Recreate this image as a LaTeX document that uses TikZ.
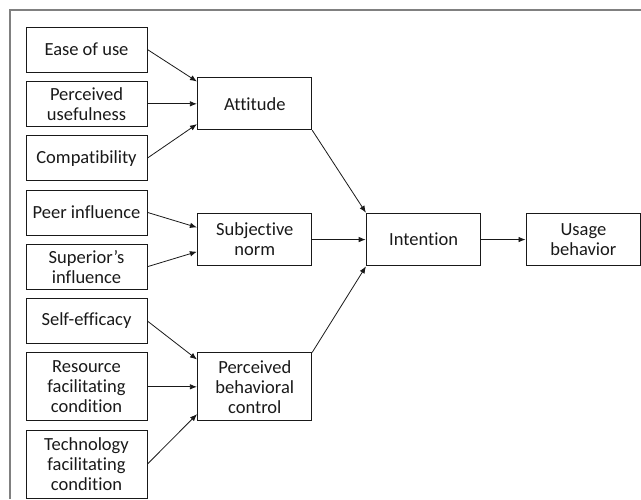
\documentclass[tikz,border=0pt]{standalone}
\usepackage{fontspec}
\setmainfont{Carlito}[Ligatures={NoCommon,NoContextual}]
\usetikzlibrary{positioning,calc,arrows.meta}
\tikzset{%
	fac/.style={draw, line width=0.8pt, minimum width=121pt, minimum height=45pt, align=center, inner sep=2pt},
	con/.style={draw, line width=0.8pt, minimum width=114pt, minimum height=52pt, align=center, inner sep=2pt},
	arrow/.style={line width=0.8pt,-{Latex[length=7pt,width=5.5pt]},shorten >=0.5pt}}

\begin{document}
\begin{tikzpicture}[x=1pt, y=-1pt, node distance=8.5pt, color=black!90, font=\fontsize{18.5}{20}\selectfont]
		\useasboundingbox (0,0) rectangle (641,499);
		\draw[gray, line width=1.5pt] (641,10) -- (10,10) -- (10,499);

		% factors
		\node[fac] (EU) at (86.5,49.5) {Ease of use};
		\node[fac] (PU) [below=of EU] {Perceived\\usefulness};
		\node[fac] (CO) [below=of PU] {Compatibility};
		\node[fac] (PI) [below=of CO] {Peer influence};
		\node[fac] (SI) [below=of PI] {Superior’s\\influence};
		\node[fac] (SE) [below=of SI] {Self-efficacy};
		\node[fac, minimum height=68pt] (RF) [below=of SE] {Resource\\facilitating\\condition};
		\node[fac, minimum height=68pt] (TF) [below=of RF] {Technology\\facilitating\\condition};

		% constructs
		\coordinate (mid) at ($(PI.south)!0.5!(SI.north)$);
		\node[con] (AT) [right=50pt of PU] {Attitude};
		\node[con] (SN) at (AT |- mid) {Subjective\\norm};
		\node[con, minimum height=68pt] (PB) [right=50pt of RF] {Perceived\\behavioral\\control};
		\node[con] (IN) [right=54pt of SN] {Intention};
		\node[con] (UB) [right=45pt of IN] {Usage\\behavior};

		\path[arrow] (EU.east) 	edge []  node [] 	{} ([yshift=22pt]AT.west);
		\path[arrow] (PU) 	edge []  node [] 	{} (AT);
		\path[arrow] (CO.east) 	edge []  node [] 	{} ([yshift=-20pt]AT.west);
		\path[arrow] (PI.east) 	edge []  node [] 	{} ([yshift=12pt]SN.west);
		\path[arrow] (SI.east) 	edge []  node [] 	{} ([yshift=-12pt]SN.west);
		\path[arrow] (SE.east) 	edge []  node [] 	{} ([yshift=27pt]PB.west);
		\path[arrow] (RF) 	edge []  node [] 	{} (PB);
		\path[arrow] (TF.east) 	edge []  node [] 	{} ([yshift=-27pt]PB.west);
		\path[arrow] (AT.south east) 	edge []  node [] 	{} (IN.north west);
		\path[arrow] (SN) 	edge []  node [] 	{} (IN);
		\path[arrow] (PB.north east) 	edge []  node [] 	{} (IN.south west);
		\path[arrow] (IN) 	edge []  node [] 	{} (UB);
	\end{tikzpicture}
\end{document}
